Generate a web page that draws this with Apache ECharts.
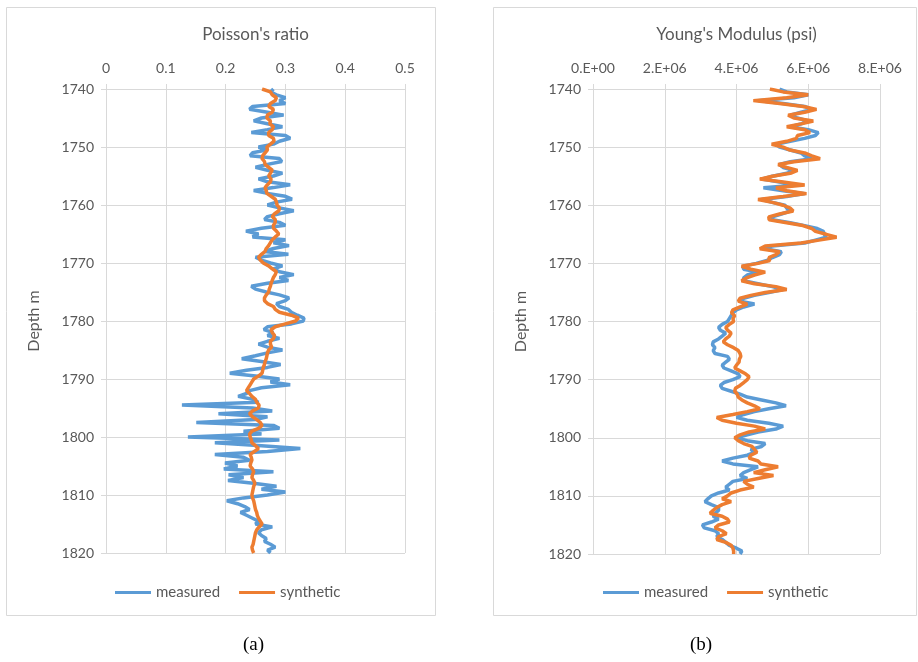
<!DOCTYPE html>
<html>
<head>
<meta charset="utf-8">
<script src="https://cdn.jsdelivr.net/npm/echarts@6/dist/echarts.min.js"></script>
<style>
  html, body { margin: 0; padding: 0; background: #fff; }
  #main { width: 918px; height: 662px; }
</style>
</head>
<body>
<div id="main"></div>
<script>
// depth samples every 0.5 m, 1740 -> 1820
var depth = [];
for (var i = 0; i <= 160; i++) depth.push(1740 + i * 0.5);

var poissonTicks = [0, 0.1, 0.2, 0.3, 0.4, 0.5];
var youngTicks = ['0.E+00', '2.E+06', '4.E+06', '6.E+06', '8.E+06'];

// Poisson's ratio, measured
var poissonMeasured = [
  0.28, 0.275, 0.285, 0.30, 0.29, 0.30, 0.245, 0.24, 0.27, 0.297, 0.26, 0.247, 0.27, 0.295, 0.27, 0.243, 0.30, 0.308, 0.29, 0.28,
  0.255, 0.27, 0.245, 0.241, 0.29, 0.294, 0.27, 0.25, 0.27, 0.295, 0.28, 0.255, 0.27, 0.308, 0.28, 0.247, 0.27, 0.30, 0.311, 0.285,
  0.27, 0.29, 0.314, 0.29, 0.27, 0.265, 0.29, 0.30, 0.26, 0.234, 0.255, 0.245, 0.30, 0.28, 0.306, 0.28, 0.265, 0.305, 0.25, 0.26,
  0.275, 0.295, 0.28, 0.29, 0.314, 0.29, 0.305, 0.27, 0.243, 0.25, 0.268, 0.29, 0.306, 0.30, 0.285, 0.29, 0.305, 0.31, 0.32, 0.331,
  0.33, 0.31, 0.27, 0.264, 0.28, 0.27, 0.29, 0.27, 0.255, 0.27, 0.295, 0.27, 0.25, 0.227, 0.26, 0.292, 0.27, 0.235, 0.207, 0.25,
  0.29, 0.275, 0.308, 0.26, 0.24, 0.235, 0.221, 0.245, 0.255, 0.127, 0.245, 0.278, 0.188, 0.27, 0.25, 0.151, 0.28, 0.29, 0.23, 0.26,
  0.137, 0.29, 0.182, 0.26, 0.325, 0.27, 0.182, 0.23, 0.24, 0.199, 0.22, 0.197, 0.28, 0.205, 0.23, 0.204, 0.25, 0.285, 0.26, 0.30,
  0.27, 0.23, 0.202, 0.22, 0.232, 0.24, 0.225, 0.235, 0.245, 0.255, 0.25, 0.278, 0.26, 0.255, 0.26, 0.268, 0.265, 0.275, 0.283, 0.27,
  0.275
];

// Poisson's ratio, synthetic
var poissonSynthetic = [
  0.261, 0.275, 0.278, 0.285, 0.283, 0.275, 0.272, 0.28, 0.278, 0.27, 0.269, 0.275, 0.274, 0.28, 0.278, 0.272, 0.272, 0.28, 0.281, 0.275,
  0.269, 0.27, 0.266, 0.262, 0.261, 0.265, 0.266, 0.272, 0.278, 0.275, 0.272, 0.276, 0.275, 0.27, 0.266, 0.268, 0.269, 0.276, 0.283, 0.285,
  0.286, 0.29, 0.289, 0.282, 0.278, 0.283, 0.283, 0.28, 0.28, 0.285, 0.289, 0.283, 0.278, 0.275, 0.272, 0.268, 0.266, 0.26, 0.255, 0.258,
  0.263, 0.272, 0.278, 0.285, 0.283, 0.28, 0.278, 0.276, 0.275, 0.273, 0.272, 0.268, 0.265, 0.265, 0.27, 0.28, 0.283, 0.29, 0.31, 0.322,
  0.317, 0.30, 0.283, 0.276, 0.278, 0.282, 0.28, 0.275, 0.275, 0.277, 0.272, 0.27, 0.269, 0.268, 0.266, 0.265, 0.263, 0.262, 0.261, 0.255,
  0.247, 0.244, 0.241, 0.238, 0.235, 0.24, 0.244, 0.25, 0.252, 0.256, 0.255, 0.245, 0.24, 0.245, 0.252, 0.258, 0.261, 0.255, 0.244, 0.24,
  0.241, 0.243, 0.244, 0.25, 0.255, 0.248, 0.241, 0.243, 0.244, 0.242, 0.241, 0.245, 0.247, 0.245, 0.244, 0.247, 0.249, 0.247, 0.246, 0.245,
  0.244, 0.245, 0.247, 0.248, 0.249, 0.25, 0.252, 0.253, 0.255, 0.258, 0.261, 0.256, 0.252, 0.25, 0.249, 0.248, 0.247, 0.246, 0.244, 0.245,
  0.247
];

// Young's modulus, measured (millions of psi)
var youngMeasured = [
  5.2, 5.4, 6.0, 5.6, 4.6, 5.3, 5.9, 6.1, 5.8, 5.5, 5.7, 6.0, 5.8, 5.5, 6.0, 6.28, 6.2, 5.9, 5.5, 5.1,
  5.2, 5.5, 5.8, 5.9, 6.1, 5.5, 5.2, 5.3, 5.6, 5.4, 5.0, 4.7, 5.2, 5.7, 4.75, 5.3, 5.9, 5.4, 4.7, 5.0,
  5.35, 5.4, 5.5, 5.25, 5.0, 5.0, 5.5, 5.9, 6.25, 6.42, 6.45, 6.5, 6.2, 5.9, 5.0, 4.8, 5.25, 5.2, 5.0, 4.85,
  4.55, 4.18, 4.2, 4.6, 4.3, 4.2, 4.2, 4.6, 5.0, 5.3, 4.9, 4.5, 4.2, 4.1, 4.5, 4.2, 4.0, 3.9, 3.85, 3.8,
  3.75, 3.6, 3.5, 3.55, 3.7, 3.6, 3.5, 3.35, 3.33, 3.4, 3.35, 3.4, 3.75, 3.8, 3.7, 3.6, 3.65, 3.85, 4.05, 4.1,
  3.9, 3.65, 3.55, 3.6, 3.85, 4.1, 4.3, 4.7, 5.1, 5.38, 4.9, 4.5, 4.2, 4.0, 4.3, 4.9, 5.3, 5.1, 4.6, 4.3,
  4.0, 4.3, 4.8, 4.7, 4.4, 4.5, 4.3, 3.9, 3.6, 3.9, 4.6, 4.4, 4.2, 4.1, 4.3, 3.9, 3.8, 3.7, 3.8, 3.5,
  3.3, 3.2, 3.12, 3.3, 3.5, 3.5, 3.4, 3.35, 3.5, 3.3, 3.05, 3.1, 3.4, 3.5, 3.45, 3.6, 3.7, 3.8, 4.0, 4.15,
  4.1
];

// Young's modulus, synthetic (millions of psi)
var youngSynthetic = [
  4.93, 5.3, 6.0, 5.4, 4.47, 5.2, 5.86, 6.23, 5.9, 5.44, 5.6, 6.14, 5.8, 5.4, 5.9, 6.05, 5.7, 5.67, 5.4, 4.98,
  5.3, 5.49, 5.9, 6.1, 6.33, 5.6, 5.16, 5.4, 5.7, 5.5, 5.0, 4.65, 5.3, 5.9, 5.1, 5.4, 5.95, 5.3, 4.6, 5.0,
  5.3, 5.5, 5.58, 5.2, 4.9, 4.91, 5.4, 5.85, 6.1, 6.2, 6.5, 6.79, 6.3, 5.8, 4.8, 4.65, 5.2, 5.1, 4.9, 4.93,
  4.6, 4.14, 4.4, 4.8, 4.5, 4.28, 4.14, 4.5, 5.1, 5.4, 4.8, 4.4, 4.1, 4.05, 4.3, 4.1, 3.9, 3.86, 3.95, 3.9,
  3.92, 3.8, 3.7, 3.75, 3.85, 3.8, 3.7, 3.63, 3.75, 3.92, 4.05, 4.1, 4.12, 4.08, 4.07, 4.0, 3.95, 4.1, 4.25, 4.35,
  4.3, 4.2, 4.1, 3.97, 3.95, 4.02, 4.05, 4.15, 4.3, 4.5, 4.65, 4.3, 3.9, 3.45, 3.6, 4.0, 4.5, 4.8, 4.35, 4.1,
  3.95, 4.05, 4.2, 4.43, 4.5, 4.57, 4.4, 4.35, 4.6, 4.68, 5.16, 4.8, 4.48, 5.03, 4.6, 4.2, 4.3, 4.48, 4.1, 3.85,
  3.75, 3.6, 3.85, 3.6, 3.45, 3.35, 3.26, 3.6, 3.75, 3.8, 3.5, 3.4, 3.6, 3.72, 3.5, 3.45, 3.7, 3.85, 3.9, 3.92,
  3.92
];

function pairs(values, scale) {
  return values.map(function (v, i) { return [v * scale, depth[i]]; });
}

var chartDom = document.getElementById('main');
var myChart = echarts.init(chartDom);
var option;

var font = 'Lato, "Liberation Sans", sans-serif';
var txt = '#595959';
var gridCol = '#d9d9d9';
var lineIcon = 'path://M0,0L36,0L36,3L0,3Z';

function depthAxis(idx) {
  return {
    type: 'value',
    gridIndex: idx,
    inverse: true,
    min: 1740,
    max: 1820,
    interval: 10,
    name: 'Depth m',
    nameLocation: 'middle',
    nameGap: 64,
    nameTextStyle: { color: txt, fontSize: 16, fontFamily: font },
    axisLine: { show: true, lineStyle: { color: gridCol } },
    axisTick: { show: true, length: 5, lineStyle: { color: gridCol } },
    axisLabel: {
      color: txt, fontSize: 14, fontFamily: font, margin: 12,
      formatter: function (v) { return String(v); }
    },
    splitLine: { lineStyle: { color: gridCol } }
  };
}

option = {
  animation: false,
  backgroundColor: '#fff',
  graphic: [
    { type: 'rect', shape: { x: 6.5, y: 7.5, width: 429, height: 608 }, style: { fill: 'none', stroke: gridCol, lineWidth: 1 } },
    { type: 'rect', shape: { x: 493.5, y: 7.5, width: 423, height: 608 }, style: { fill: 'none', stroke: gridCol, lineWidth: 1 } },
    { type: 'text', left: 243, top: 636, style: { text: '(a)', fontSize: 19, fontFamily: '"Liberation Serif", serif', fill: '#000' } },
    { type: 'text', left: 690, top: 636, style: { text: '(b)', fontSize: 19, fontFamily: '"Liberation Serif", serif', fill: '#000' } }
  ],
  legend: [
    {
      left: 110, top: 580,
      data: ['measured', 'synthetic'],
      icon: lineIcon,
      itemWidth: 36, itemHeight: 3, itemGap: 19,
      textStyle: { color: txt, fontSize: 15, fontFamily: font }
    },
    {
      left: 598, top: 580,
      data: ['measured', 'synthetic'],
      icon: lineIcon,
      itemWidth: 36, itemHeight: 3, itemGap: 19,
      textStyle: { color: txt, fontSize: 15, fontFamily: font }
    }
  ],
  grid: [
    { left: 106, top: 89, width: 299, height: 464 },
    { left: 593, top: 89, width: 287, height: 465 }
  ],
  xAxis: [
    {
      type: 'value',
      gridIndex: 0,
      position: 'top',
      min: poissonTicks[0],
      max: poissonTicks[poissonTicks.length - 1],
      interval: 0.1,
      name: "Poisson's ratio",
      nameLocation: 'middle',
      nameGap: 46,
      nameTextStyle: { color: txt, fontSize: 17, fontFamily: font },
      axisLine: { show: true, lineStyle: { color: gridCol } },
      axisTick: { show: true, length: 5, lineStyle: { color: gridCol } },
      axisLabel: { color: txt, fontSize: 14, fontFamily: font, margin: 14 },
      splitLine: { lineStyle: { color: gridCol } }
    },
    {
      type: 'value',
      gridIndex: 1,
      position: 'top',
      min: 0,
      max: 8e6,
      interval: 2e6,
      name: "Young's Modulus (psi)",
      nameLocation: 'middle',
      nameGap: 46,
      nameTextStyle: { color: txt, fontSize: 17, fontFamily: font },
      axisLine: { show: true, lineStyle: { color: gridCol } },
      axisTick: { show: true, length: 5, lineStyle: { color: gridCol } },
      axisLabel: {
        color: txt, fontSize: 14, fontFamily: font, margin: 14,
        formatter: function (v) { return youngTicks[Math.round(v / 2e6)]; }
      },
      splitLine: { lineStyle: { color: gridCol } }
    }
  ],
  yAxis: [depthAxis(0), depthAxis(1)],
  series: [
    {
      name: 'measured', type: 'line', xAxisIndex: 0, yAxisIndex: 0,
      data: pairs(poissonMeasured, 1), symbol: 'none',
      lineStyle: { color: '#5B9BD5', width: 3.5 }, itemStyle: { color: '#5B9BD5' }
    },
    {
      name: 'synthetic', type: 'line', xAxisIndex: 0, yAxisIndex: 0,
      data: pairs(poissonSynthetic, 1), symbol: 'none',
      lineStyle: { color: '#ED7D31', width: 3.5 }, itemStyle: { color: '#ED7D31' }
    },
    {
      name: 'measured', type: 'line', xAxisIndex: 1, yAxisIndex: 1,
      data: pairs(youngMeasured, 1e6), symbol: 'none',
      lineStyle: { color: '#5B9BD5', width: 3.5 }, itemStyle: { color: '#5B9BD5' }
    },
    {
      name: 'synthetic', type: 'line', xAxisIndex: 1, yAxisIndex: 1,
      data: pairs(youngSynthetic, 1e6), symbol: 'none',
      lineStyle: { color: '#ED7D31', width: 3.5 }, itemStyle: { color: '#ED7D31' }
    }
  ]
};

option && myChart.setOption(option);
</script>
</body>
</html>
